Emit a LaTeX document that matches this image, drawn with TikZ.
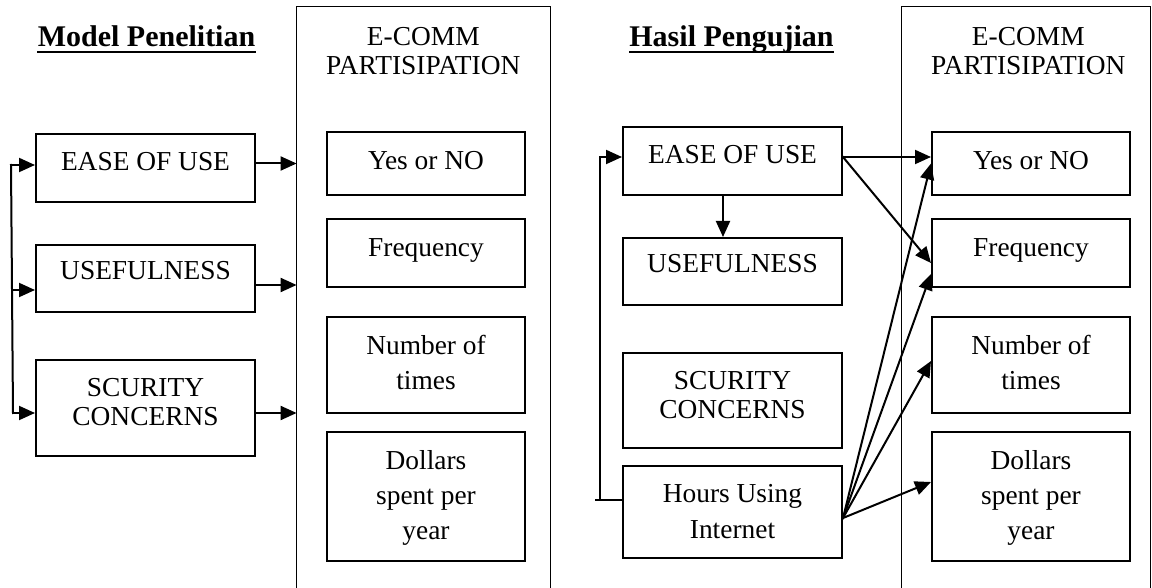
\documentclass[tikz,border=0pt]{standalone}
\usepackage{fontspec}
\setmainfont{Liberation Serif}
\usetikzlibrary{arrows.meta,fit}
\tikzset{
  box/.style={draw, line width=1pt, inner sep=0pt},
  frame/.style={inner sep=0pt},
  framelines/.style={line width=0.75pt},
  txt/.style={font=\fontsize{13.7}{17}\selectfont, align=center, inner sep=0pt},
  ttl/.style={font=\fontsize{15}{18}\selectfont\bfseries, inner sep=0pt, anchor=base},
  uline/.style={line width=1.2pt},
  ln/.style={line width=1pt, line cap=rect},
  arr/.style={line width=1pt, line cap=rect, -{Triangle[length=8pt,width=7pt]}},
}
\begin{document}
\begin{tikzpicture}[x=0.5pt,y=-0.5pt]
\fill[white] (0,0) rectangle (1152,588);
\useasboundingbox (0,0) rectangle (1152,588);

% ---------------- left panel: Model Penelitian ----------------
\node[ttl] (title1) at (146.5,47) {Model Penelitian};
\draw[uline] ([yshift=-2.5pt]title1.base west) -- ([yshift=-2.5pt]title1.base east);

\node[frame, fit={(297,7) (550,588)}] (ecomm1) {};
\draw[framelines] (ecomm1.south west) -- (ecomm1.north west) -- (ecomm1.north east) -- (ecomm1.south east);
\node[txt] (ecomm1t) at (423.3,53.7) {\strut E-COMM\\[-2.5pt]PARTISIPATION\strut};

\node[box, fit={(36,134) (255,202)}] (ease1) {};
\node[box, fit={(36,245) (255,312)}] (use1) {};
\node[box, fit={(36,360) (255,456)}] (scur1) {};
\node[txt] (ease1t) at (145.5,163.8) {\strut EASE OF USE\strut};
\node[txt] (use1t) at (145.5,272.5) {\strut USEFULNESS\strut};
\node[txt] (scur1t) at (145.5,404) {\strut SCURITY\\[-2.3pt]CONCERNS\strut};

\node[box, fit={(327,132) (525,195)}] (yes1) {};
\node[box, fit={(327,219) (525,287)}] (freq1) {};
\node[box, fit={(327,317) (525,413)}] (num1) {};
\node[box, fit={(327,432) (525,561)}] (dol1) {};
\node[txt] (yes1t) at (426,163.2) {\strut Yes or NO\strut};
\node[txt] (freq1t) at (426,250) {\strut Frequency\strut};
\node[txt] (num1t) at (426,365.7) {\strut Number of\\[0.5pt]times\strut};
\node[txt] (dol1t) at (426,497.9) {\strut Dollars\\[0.5pt]spent per\\[0.5pt]year\strut};

% bracket feeding the three constructs
\coordinate (bt) at (11,165);
\coordinate (bm) at (12,290);
\coordinate (bb) at (13,413);
\draw[ln] (bt) -- (bb);
\draw[arr] (bt) -- (bt -| ease1.west);
\draw[arr] (bm) -- (bm -| use1.west);
\draw[arr] (bb) -- (bb -| scur1.west);

% constructs to participation
\draw[arr] ([yshift=2.25pt]ease1.east) -- ([yshift=2.25pt]ease1.east -| ecomm1.west);
\draw[arr] ([yshift=-3.25pt]use1.east) -- ([yshift=-3.25pt]use1.east -| ecomm1.west);
\draw[arr] ([yshift=-2.5pt]scur1.east) -- ([yshift=-2.5pt]scur1.east -| ecomm1.west);

% ---------------- right panel: Hasil Pengujian ----------------
\node[ttl] (title2) at (731.5,47) {Hasil Pengujian};
\draw[uline] ([yshift=-2.5pt]title2.base west) -- ([yshift=-2.5pt]title2.base east);

\node[frame, fit={(902,7) (1150,588)}] (ecomm2) {};
\draw[framelines] (ecomm2.south west) -- (ecomm2.north west) -- (ecomm2.north east) -- (ecomm2.south east);
\node[txt] (ecomm2t) at (1028.3,53.7) {\strut E-COMM\\[-2.5pt]PARTISIPATION\strut};

\node[box, fit={(623,127) (842,195)}] (ease2) {};
\node[box, fit={(623,238) (842,305)}] (use2) {};
\node[box, fit={(623,353) (842,448)}] (scur2) {};
\node[box, fit={(623,466) (842,558)}] (hours2) {};
\node[txt] (ease2t) at (732.5,156.5) {\strut EASE OF USE\strut};
\node[txt] (use2t) at (732.5,265.9) {\strut USEFULNESS\strut};
\node[txt] (scur2t) at (732.5,397.3) {\strut SCURITY\\[-2.3pt]CONCERNS\strut};
\node[txt] (hours2t) at (732.5,513.5) {\strut Hours Using\\[1pt]Internet\strut};

\node[box, fit={(932,132) (1130,195)}] (yes2) {};
\node[box, fit={(932,219) (1130,287)}] (freq2) {};
\node[box, fit={(932,317) (1130,413)}] (num2) {};
\node[box, fit={(932,432) (1130,561)}] (dol2) {};
\node[txt] (yes2t) at (1031,163.2) {\strut Yes or NO\strut};
\node[txt] (freq2t) at (1031,250) {\strut Frequency\strut};
\node[txt] (num2t) at (1031,365.7) {\strut Number of\\[0.5pt]times\strut};
\node[txt] (dol2t) at (1031,497.9) {\strut Dollars\\[0.5pt]spent per\\[0.5pt]year\strut};

% feedback loop from internet hours to ease of use
\coordinate (stub) at (596,500);
\coordinate (lb) at (600,500);
\draw[ln] ([yshift=6pt]hours2.west) -- (stub);
\draw[arr] (lb) |- ([yshift=2pt]ease2.west);

% ease of use to usefulness
\draw[arr] ([xshift=-4.75pt]ease2.south) -- ([xshift=-4.75pt]ease2.south |- use2.north);

% ease of use to participation
\draw[arr] ([yshift=2pt]ease2.east) -- ([yshift=2pt]ease2.east -| yes2.west);
\draw[arr] ([yshift=2pt]ease2.east) -- ([yshift=-5pt]freq2.west);

% internet hours to participation
\draw[arr] ([yshift=-3pt]hours2.east) -- (yes2.west);
\draw[arr] ([yshift=-3pt]hours2.east) -- ([yshift=-10.5pt]freq2.west);
\draw[arr] ([yshift=-3pt]hours2.east) -- ([yshift=2pt]num2.west);
\draw[arr] ([yshift=-3pt]hours2.east) -- ([yshift=7.25pt]dol2.west);
\end{tikzpicture}
\end{document}
